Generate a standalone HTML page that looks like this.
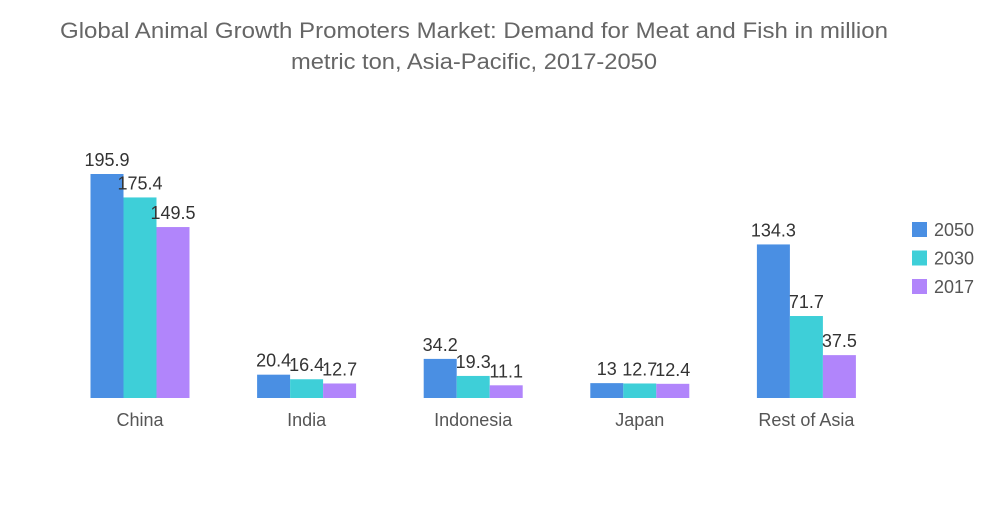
<!DOCTYPE html>
<html><head><meta charset="utf-8"><style>
body{margin:0;background:#fff;width:1000px;height:504px;overflow:hidden;font-family:"Liberation Sans",sans-serif}
</style></head><body>
<svg width="1000" height="504" xmlns="http://www.w3.org/2000/svg" id="c">
<text x="60" y="38" font-size="22" fill="#666" textLength="828" lengthAdjust="spacingAndGlyphs">Global Animal Growth Promoters Market: Demand for Meat and Fish in million</text>
<text x="291" y="69" font-size="22" fill="#666" textLength="366" lengthAdjust="spacingAndGlyphs">metric ton, Asia-Pacific, 2017-2050</text>
</svg>
<script>
const categories=["China","India","Indonesia","Japan","Rest of Asia"];
const seriesNames=["2050","2030","2017"];
const s2050=[195.9,20.4,34.2,13,134.3];
const s2030=[175.4,16.4,19.3,12.7,71.7];
const s2017=[149.5,12.7,11.1,12.4,37.5];
const colors=["#4a8fe3","#3ecfd8","#b185fb"];
const svg=document.getElementById('c');
const NS="http://www.w3.org/2000/svg";
const base=398, scale=224/195.9;
const y=v=>base-v*scale;
const xc=i=>140+i*166.6;
const bw=33;
function mk(t,a){const e=document.createElementNS(NS,t);for(const k in a)e.setAttribute(k,a[k]);svg.appendChild(e);return e;}
const all=[s2050,s2030,s2017];
categories.forEach((c,i)=>{
  all.forEach((s,j)=>{
    const x=xc(i)-1.5*bw+j*bw;
    const r=mk('rect',{x:x,y:y(s[i]),width:bw,height:s[i]*scale,fill:colors[j]});
    
    
    const t=mk('text',{x:x+bw/2,y:y(s[i])-8,'text-anchor':'middle','font-size':18,fill:'#333'});
    t.textContent=String(s[i]);
    
    
  });
  const l=mk('text',{x:xc(i),y:426,'text-anchor':'middle','font-size':18,fill:'#555'});
  l.textContent=c;
  
  
});
seriesNames.forEach((n,j)=>{
  const r=mk('rect',{x:912,y:222+j*28.5,width:15,height:15,fill:colors[j]});
  
  
  const t=mk('text',{x:934,y:236+j*28.5,'font-size':18,fill:'#555'});
  t.textContent=n;
  
  
});
</script>
</body></html>
